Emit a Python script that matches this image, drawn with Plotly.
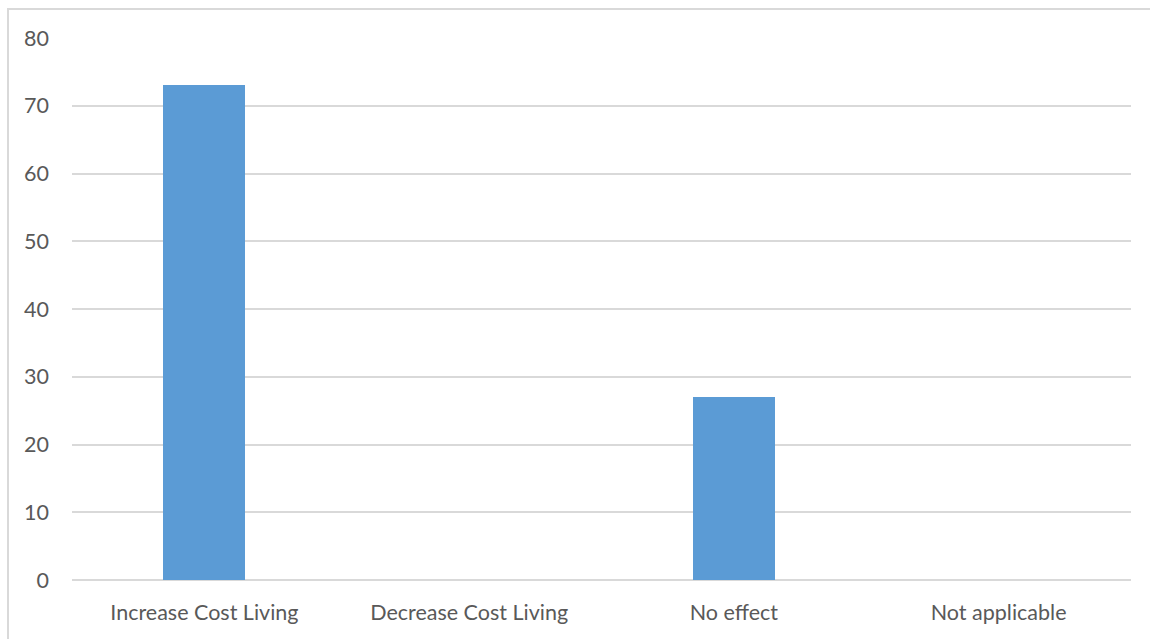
import plotly.graph_objects as go

categories = ["Increase Cost Living", "Decrease Cost Living", "No effect", "Not applicable"]
values = [73, 0, 27, 0]
y_ticks = [0, 10, 20, 30, 40, 50, 60, 70, 80]

W, H = 1150, 639
L, R, T, B = 72, 19, 38, 59
plot_w = W - L - R
plot_h = H - T - B

fig = go.Figure(
    go.Bar(
        x=categories,
        y=values,
        marker=dict(color="#5b9bd5", line=dict(width=0)),
        width=0.31,
        hoverinfo="x+y",
    )
)

font = dict(family="Lato, Open Sans, sans-serif", size=21.5, color="#595959")

fig.update_layout(
    width=W,
    height=H,
    margin=dict(l=L, r=R, t=T, b=B),
    paper_bgcolor="white",
    plot_bgcolor="white",
    showlegend=False,
    font=font,
    bargap=0,
    xaxis=dict(
        showgrid=False,
        showline=False,
        ticks="",
        tickfont=font,
        ticklabelstandoff=17,
    ),
    yaxis=dict(
        range=[0, 80],
        tickvals=y_ticks,
        showgrid=True,
        gridcolor="#d9d9d9",
        gridwidth=1.5,
        zeroline=True,
        zerolinecolor="#d9d9d9",
        zerolinewidth=1.5,
        showline=False,
        ticks="",
        tickfont=font,
        ticklabelstandoff=22,
    ),
)

# Outer chart frame (light grey border)
fig.add_shape(
    type="rect",
    xref="paper",
    yref="paper",
    x0=(8 - L) / plot_w,
    x1=(W + 20 - L) / plot_w,
    y0=-(B + 20) / plot_h,
    y1=1 + (T - 9) / plot_h,
    line=dict(color="#d9d9d9", width=2),
    fillcolor="rgba(0,0,0,0)",
    layer="below",
)

fig.write_html("out.html")
